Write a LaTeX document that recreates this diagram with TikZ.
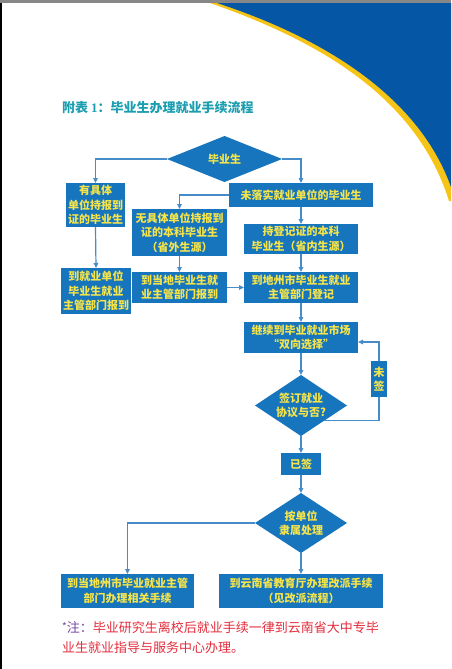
\documentclass[tikz,border=0pt]{standalone}
\usepackage{fontspec}
\setmainfont{Noto Sans CJK SC}
\newfontfamily\numserif{Liberation Serif}
\usetikzlibrary{shapes.geometric,arrows.meta}
\definecolor{boxblue}{RGB}{22,117,189}
\definecolor{txtyellow}{RGB}{245,228,74}
\definecolor{lineblue}{RGB}{70,140,200}
\definecolor{titleteal}{RGB}{26,158,176}
\definecolor{notered}{RGB}{228,45,60}
\definecolor{notepurple}{RGB}{120,70,160}
\definecolor{cornerblue}{RGB}{5,87,166}
\definecolor{corneryellow}{RGB}{246,196,23}
\definecolor{bargrey}{RGB}{135,135,135}
\begin{document}
\begin{tikzpicture}[x=1pt,y=-1pt,
  box/.style={fill=boxblue,text=txtyellow,font=\bfseries\fontsize{11}{14.5}\selectfont,align=center,inner sep=0pt,outer sep=0pt},
  dia/.style={diamond,fill=boxblue,inner sep=0pt,outer sep=0pt},
  dtext/.style={text=txtyellow,font=\bfseries\fontsize{11}{14.5}\selectfont,align=center,inner sep=0pt},
  arr/.style={draw=lineblue,line width=1.2pt,-{Triangle[length=5pt,width=4.5pt]}}]
\useasboundingbox (0,0) rectangle (451,669);
\fill[white] (0,0) rectangle (451,669);
% corner decoration
\fill[corneryellow] (210,3) .. controls (328,44) and (418,102) .. (449,201) -- (451,201) -- (451,3) -- cycle;
\fill[cornerblue] (217,3) .. controls (330,40) and (420,100) .. (451,187) -- (451,3) -- cycle;
% frame
\fill[bargrey] (0,0) rectangle (451,3.2);
\fill[black] (0,3.2) rectangle (1.6,669);
% title
\node[anchor=west,text=titleteal,font=\bfseries\fontsize{13}{15}\selectfont,inner sep=0pt] (title) at (62,108) {附表 {\numserif\bfseries 1}：毕业生办理就业手续流程};
% nodes
\node[dia,minimum width=115pt,minimum height=46pt] (d1) at (224.5,159) {};
\node[dtext] (d1t) at (d1) {毕业生};
\node[box,minimum width=59pt,minimum height=44pt] (b1) at (95.5,205) {有具体\\单位持报到\\证的毕业生};
\node[box,minimum width=144pt,minimum height=24pt] (b2) at (301,195) {未落实就业单位的毕业生};
\node[box,minimum width=95pt,minimum height=47pt] (b3) at (179.5,232.5) {无具体单位持报到\\证的本科毕业生\\（省外生源）};
\node[box,minimum width=114pt,minimum height=30pt] (b4) at (301,239) {持登记证的本科\\毕业生（省内生源）};
\node[box,minimum width=70pt,minimum height=46pt] (b5) at (96,291) {到就业单位\\毕业生就业\\主管部门报到};
\node[box,minimum width=95pt,minimum height=31pt] (b6) at (179.5,287.5) {到当地毕业生就\\业主管部门报到};
\node[box,minimum width=114pt,minimum height=31pt] (b7) at (301,287.5) {到地州市毕业生就业\\主管部门登记};
\node[box,minimum width=114pt,minimum height=31pt] (b8) at (301,337.5) {继续到毕业就业市场\\“双向选择”};
\node[dia,minimum width=92pt,minimum height=61pt] (d2) at (301,405.5) {};
\node[dtext] (d2t) at (d2) {签订就业\\协议与否?};
\node[box,minimum width=40pt,minimum height=22pt] (b9) at (301,464) {已签};
\node[dia,minimum width=92pt,minimum height=60pt] (d3) at (301,523) {};
\node[dtext] (d3t) at (d3) {按单位\\隶属处理};
\node[box,minimum width=133pt,minimum height=34pt] (b10) at (127.5,591) {到当地州市毕业就业主管\\部门办理相关手续};
\node[box,minimum width=164pt,minimum height=34pt] (b11) at (301,591) {到云南省教育厅办理改派手续\\（见改派流程）};
% connectors
\draw[arr] (d1.west) -| (b1.north);
\draw[arr] (d1.east) -| (b2.north);
\draw[arr] (b2.west) -| (b3.north);
\draw[arr] (b2.south) -- (b4.north);
\draw[arr] (b1.south) -- (b5.north);
\draw[arr] (b3.south) -- (b6.north);
\draw[arr] (b6.east) -- (b7.west);
\draw[arr] (b4.south) -- (b7.north);
\draw[arr] (b7.south) -- (b8.north);
\draw[arr] (b8.south) -- (d2.north);
\coordinate (loopc) at (379,342);
\draw[arr] (d2.south east) -| (loopc) -- (loopc -| b8.east);
\node[box,font=\bfseries\fontsize{11}{13.5}\selectfont,minimum width=16pt,minimum height=36pt] (wq) at (379,379) {未\\签};
\draw[arr] (d2.south) -- (b9.north);
\draw[arr] (b9.south) -- (d3.north);
\draw[arr] (d3.west) -| (b10.north);
\draw[arr] (d3.south) -- (b11.north);
% note
\node[anchor=west,inner sep=0pt,font=\fontsize{13}{15}\selectfont] (note1) at (62,628) {{\color{notepurple}\raisebox{2pt}{\fontsize{10}{10}\selectfont *}注：}{\color{notered}毕业研究生离校后就业手续一律到云南省大中专毕}};
\node[anchor=west,inner sep=0pt,font=\fontsize{13}{15}\selectfont,text=notered] (note2) at (62,648) {业生就业指导与服务中心办理。};
\end{tikzpicture}
\end{document}
